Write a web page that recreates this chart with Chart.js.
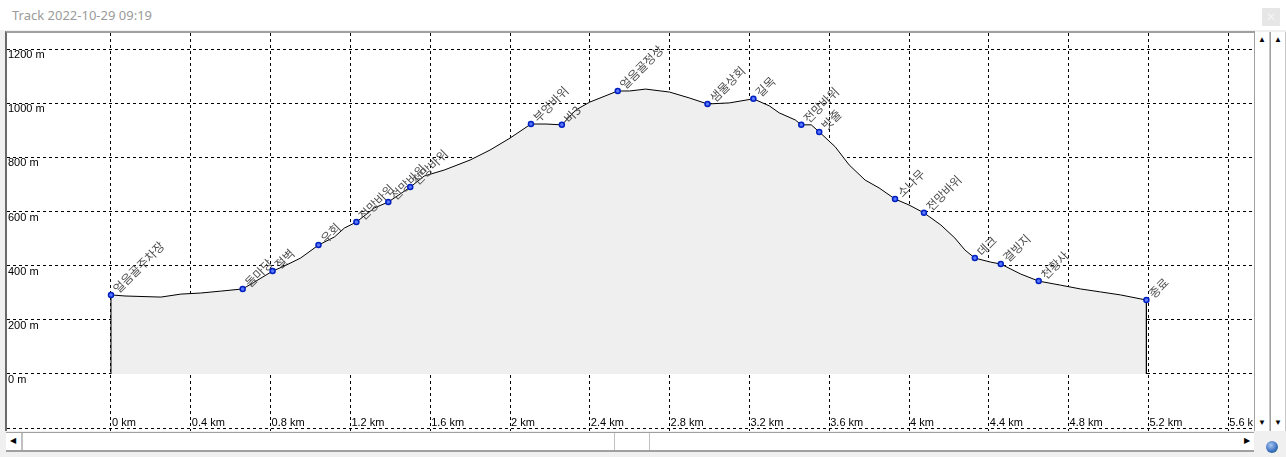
<!DOCTYPE html>
<html>
<head>
<meta charset="utf-8">
<script src="https://cdn.jsdelivr.net/npm/chart.js@4.4.0/dist/chart.umd.min.js"></script>
<style>
  body { margin: 0; width: 1286px; height: 457px; background: #f0f0f0; position: relative; overflow: hidden; font-family: 'Liberation Sans', Arial, sans-serif; }
  .titlebar { position: absolute; left: 0; top: 0; width: 1286px; height: 30px; background: #fff; }
  .title { position: absolute; left: 12px; top: 6px; font: 13px 'Noto Sans', 'Open Sans', sans-serif; color: #9a9a9a; }
  .close { position: absolute; left: 1262px; top: 8px; width: 18px; height: 18px; background: #e6e6e6; color: #f4f4f4; font: 12px sans-serif; text-align: center; line-height: 18px; }
  .frame { position: absolute; left: 5px; top: 31px; width: 1248px; height: 398px; border-top: 2px solid #a0a0a0; border-left: 2px solid #6a6a6a; background: #fff; }
  .frame canvas { position: absolute; left: 0; top: 0; }
  .vbar { position: absolute; top: 32px; width: 14px; height: 399px; background: #fff; border-left: 1px solid #a0a0a0; border-right: 1px solid #c8c8c8; }
  .arrow { position: absolute; font-size: 8px; color: #000; width: 14px; text-align: center; }
  .hbar { position: absolute; left: 6px; top: 432px; width: 1248px; height: 17px; background: #fff; border-top: 1px solid #a0a0a0; border-bottom: 2px solid #a0a0a0; }
  .thumb { position: absolute; top: 0; height: 17px; border-left: 1px solid #c0c0c0; border-right: 1px solid #c0c0c0; }
  .globe { position: absolute; left: 1266px; top: 441px; width: 12px; height: 12px; border-radius: 50%; background: radial-gradient(circle at 40% 35%, #a8c8f0, #3a6cc0 60%, #2a8a40); }
</style>
</head>
<body>
<div class="titlebar"><div class="title">Track 2022-10-29 09:19</div><div class="close">✕</div></div>
<div class="frame"><canvas id="profileChart" width="1246" height="398"></canvas></div>
<div class="vbar" style="left:1254px"><div class="arrow" style="top:3px">▲</div><div class="arrow" style="top:386px">▼</div></div>
<div class="vbar" style="left:1270px"><div class="arrow" style="top:3px">▲</div><div class="arrow" style="top:386px">▼</div></div>
<div class="hbar"><div class="arrow" style="left:0;top:3px">◀</div><div class="thumb" style="left:15px;width:0"></div><div class="thumb" style="left:608px;width:34px"></div><div class="arrow" style="left:1234px;top:3px">▶</div></div>
<div class="globe"></div>
<script>
// Elevation profile (distance in km, elevation in m)
const profDist = [0, 0, 0.07, 0.25, 0.35, 0.45, 0.55, 0.66, 0.72, 0.81, 0.87, 0.95, 1.04, 1.12, 1.17, 1.23,
    1.32, 1.39, 1.50, 1.57, 1.67, 1.80, 1.90, 2.00, 2.105, 2.18, 2.26, 2.33, 2.40, 2.54, 2.60, 2.68,
    2.80, 2.90, 2.99, 3.10, 3.22, 3.30, 3.35, 3.43, 3.46, 3.51, 3.55, 3.63, 3.70, 3.78, 3.85, 3.93,
    4.00, 4.075, 4.16, 4.23, 4.28, 4.33, 4.41, 4.46, 4.56, 4.65, 4.76, 4.86, 4.96, 5.06, 5.19, 5.19];
const profElev = [0, 292, 288, 284, 295, 299, 306, 314, 340, 380, 399, 428, 476, 506, 539, 561,
    613, 635, 690, 731, 753, 790, 827, 871, 923, 923, 920, 975, 1004, 1045, 1045, 1052,
    1041, 1019, 997, 1001, 1016, 990, 964, 938, 920, 920, 894, 839, 772, 716, 687, 646,
    624, 595, 550, 502, 458, 428, 413, 406, 369, 343, 328, 314, 303, 292, 273, 0];

// Waypoints
const wpNames = ['얼음골주차장', '돌마당', '절벽', '우회', '전망바위', '전망바위', '전망바위', '부엉바위', '바3',
    '얼음골정상', '샘물상회', '길목', '전망바위', '밧줄', '소나무', '전망바위', '데크', '결빙지', '천황사', '종료'];
const wpDist = [0, 0.66, 0.81, 1.04, 1.23, 1.39, 1.50, 2.105, 2.26, 2.54, 2.99, 3.22, 3.46, 3.55, 3.93, 4.075, 4.33, 4.46, 4.65, 5.19];
const wpElev = [292, 314, 380, 476, 561, 635, 690, 923, 920, 1045, 997, 1016, 920, 894, 646, 595, 428, 406, 343, 273];

const gridColor = '#000';
const dash = [3, 3];

// no label padding: the plot fills the whole canvas
function noPadding(s) {
    s.paddingTop = 0;
    s.paddingBottom = 0;
    s.paddingLeft = 0;
    s.paddingRight = 0;
}

const waypointLabels = {
    id: 'waypointLabels',
    afterDatasetDraw(chart, args) {
        if (args.index !== 1) return;
        const ctx = chart.ctx;
        const pts = chart.getDatasetMeta(0).data;
        ctx.save();
        ctx.font = "12px 'Noto Sans CJK KR', sans-serif";
        ctx.fillStyle = '#505050';
        ctx.textBaseline = 'middle';
        pts.forEach((p, i) => {
            ctx.save();
            ctx.translate(p.x, p.y);
            ctx.rotate(-Math.PI / 4);
            ctx.fillText(wpNames[i], 6, 0);
            ctx.restore();
        });
        ctx.restore();
    },
    afterDraw(chart) {
        // distance tick labels sit inside the plot, just above the bottom grid line
        const ctx = chart.ctx;
        const xs = chart.scales.x;
        const ys = chart.scales.y;
        const base = ys.getPixelForValue(-200) - 2;
        ctx.save();
        ctx.font = "11px 'Liberation Sans', Arial, sans-serif";
        ctx.fillStyle = '#000';
        ctx.textBaseline = 'alphabetic';
        xs.ticks.forEach(t => {
            ctx.fillText(Math.round(t.value * 10) / 10 + ' km', xs.getPixelForValue(t.value) + 1, base);
        });
        ctx.restore();
    }
};

document.addEventListener('DOMContentLoaded', function() {
    const ctx = document.getElementById('profileChart').getContext('2d');
    new Chart(ctx, {
        type: 'line',
        data: {
            datasets: [
                {
                    label: 'Waypoints',
                    data: wpDist.map((d, i) => ({ x: d, y: wpElev[i] })),
                    showLine: false,
                    pointRadius: 2.5,
                    pointBorderWidth: 1.5,
                    pointBackgroundColor: '#5a78ff',
                    pointBorderColor: '#0020c0',
                    order: 1
                },
                {
                    label: 'Elevation',
                    data: profDist.map((d, i) => ({ x: d, y: profElev[i] })),
                    borderColor: '#000',
                    borderWidth: 1,
                    backgroundColor: '#efefef',
                    fill: 'origin',
                    pointRadius: 0,
                    tension: 0,
                    order: 2
                }
            ]
        },
        options: {
            responsive: false,
            animation: false,
            layout: { padding: 0, autoPadding: false },
            plugins: {
                legend: { display: false },
                tooltip: { enabled: false }
            },
            scales: {
                x: {
                    type: 'linear',
                    min: -0.5213,
                    max: 5.7243,
                    afterBuildTicks: s => { s.ticks = s.ticks.filter(t => t.value >= -1e-9); },
                    afterFit: s => { s.height = 0; noPadding(s); },
                    ticks: { display: false, stepSize: 0.4, includeBounds: false },
                    grid: { color: gridColor, drawTicks: false },
                    border: { display: false, dash: dash }
                },
                y: {
                    min: -210.5,
                    max: 1259.1,
                    afterFit: s => { s.width = 0; noPadding(s); },
                    ticks: {
                        stepSize: 200,
                        includeBounds: false,
                        mirror: true,
                        padding: 1,
                        labelOffset: 6,
                        color: '#000',
                        font: { family: "'Liberation Sans', Arial, sans-serif", size: 11 },
                        callback: v => v < 0 ? '' : v + ' m'
                    },
                    grid: { color: gridColor, drawTicks: false },
                    border: { display: false, dash: dash }
                }
            }
        },
        plugins: [waypointLabels]
    });
});
</script>
</body>
</html>
